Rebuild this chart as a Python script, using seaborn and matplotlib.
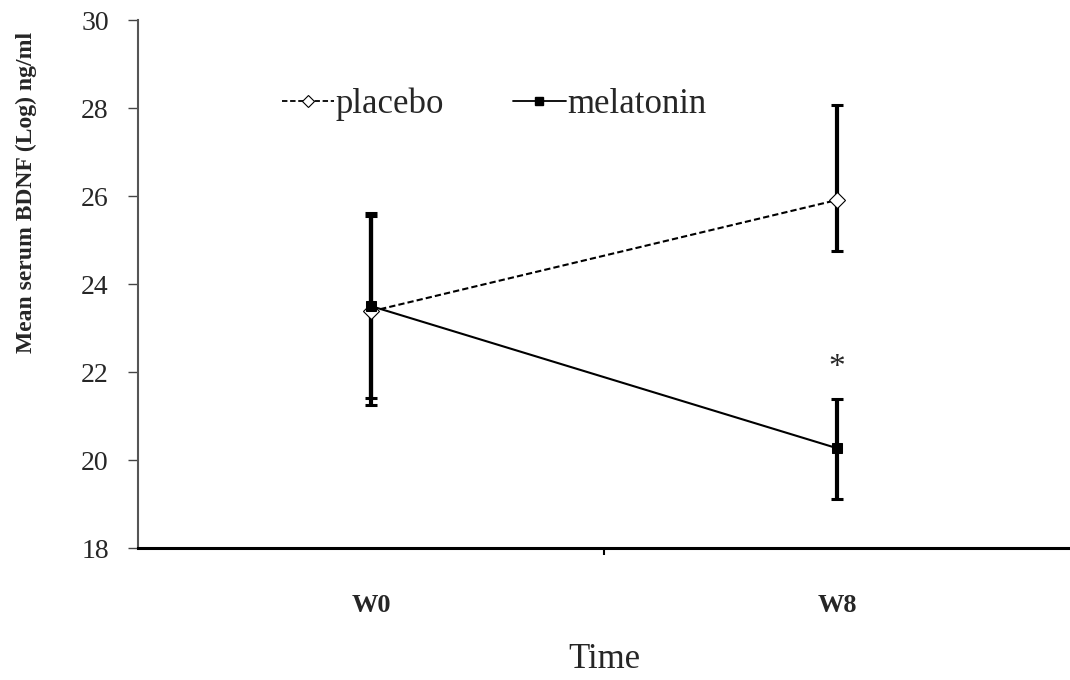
import numpy as np
import pandas as pd
import matplotlib
matplotlib.use("Agg")
import matplotlib.pyplot as plt
import seaborn as sns
from matplotlib.lines import Line2D

# ---- data ----
times = ["W0", "W8"]
placebo_mean = [23.38, 25.91]
placebo_low = [21.25, 24.75]
placebo_high = [25.55, 28.07]
melatonin_mean = [23.50, 20.27]
melatonin_low = [21.40, 19.11]
melatonin_high = [25.61, 21.39]
groups = ["placebo", "melatonin"]
yticks = [18, 20, 22, 24, 26, 28, 30]

sns.set_style("white")
plt.rcParams["font.family"] = ["Liberation Serif", "DejaVu Serif"]

df = pd.DataFrame({
    "x": list(range(len(times))) * 2,
    "value": placebo_mean + melatonin_mean,
    "group": [groups[0]] * len(times) + [groups[1]] * len(times),
})

fig = plt.figure(figsize=(10.7, 6.8), dpi=100)
ax = fig.add_axes([0.129, 0.194, 0.871, 0.7765])

# error bars
xs = np.arange(len(times))
for mean, low, high in [(placebo_mean, placebo_low, placebo_high),
                        (melatonin_mean, melatonin_low, melatonin_high)]:
    m = np.array(mean)
    yerr = np.vstack([m - np.array(low), np.array(high) - m])
    ax.errorbar(xs, m, yerr=yerr, fmt="none", ecolor="black",
                elinewidth=3.0, capsize=4.5, capthick=2.2, zorder=2)

sns.lineplot(data=df, x="x", y="value", hue="group", style="group",
             palette={"placebo": "black", "melatonin": "black"},
             dashes={"placebo": (3, 1.5), "melatonin": ""},
             markers={"placebo": "D", "melatonin": "s"},
             markersize=7, linewidth=1.5, ax=ax, zorder=3, legend=False)

for ln in ax.get_lines():
    if ln.get_marker() == "D":
        ln.set_markerfacecolor("white")
        ln.set_markeredgecolor("black")
        ln.set_markeredgewidth(0.8)
        ln.set_markersize(8)
    elif ln.get_marker() == "s":
        ln.set_markerfacecolor("black")
        ln.set_markeredgecolor("black")
        ln.set_markersize(7.5)

# legend
handles = [
    Line2D([], [], color="black", linestyle=(0, (3, 1.5)), linewidth=1.3,
           marker="D", markerfacecolor="white", markeredgecolor="black",
           markeredgewidth=0.8, markersize=6),
    Line2D([], [], color="black", linestyle="-", linewidth=1.3,
           marker="s", markerfacecolor="black", markersize=5.5),
]
ax.legend(handles, groups, ncol=2, frameon=False, loc="center",
          bbox_to_anchor=(0.382, 0.84), fontsize=25, handlelength=1.5,
          handletextpad=0.05, columnspacing=2.0)

# asterisk
ax.text(1, 22.1, "*", ha="center", va="center", fontsize=24)

# axes
ax.set_xlim(-0.5, 1.5)
ax.set_ylim(18, 30)
ax.set_yticks(yticks)
ax.set_yticklabels([str(t) for t in yticks], fontsize=20)
ax.set_xticks(xs)
ax.set_xticklabels(times, fontsize=19, fontweight="bold")
ax.set_xticks([0.5], minor=True)
ax.tick_params(axis="x", which="major", length=0, pad=33)
ax.tick_params(axis="x", which="minor", length=5, width=1.5, color="black",
               direction="out", bottom=True)
ax.tick_params(axis="y", which="major", length=7, width=1.0, color="#444444",
               direction="out", left=True, pad=14)

for s in ["top", "right"]:
    ax.spines[s].set_visible(False)
ax.spines["left"].set_color("#555555")
ax.spines["left"].set_linewidth(1.5)
ax.spines["bottom"].set_color("black")
ax.spines["bottom"].set_linewidth(2.2)

ax.set_xlabel("Time", fontsize=25, labelpad=19)
ax.set_ylabel("Mean serum BDNF (Log) ng/ml", fontsize=17, fontweight="bold")
ax.yaxis.set_label_coords(-0.108, 0.674)

fig.savefig("out.png", dpi=100)
